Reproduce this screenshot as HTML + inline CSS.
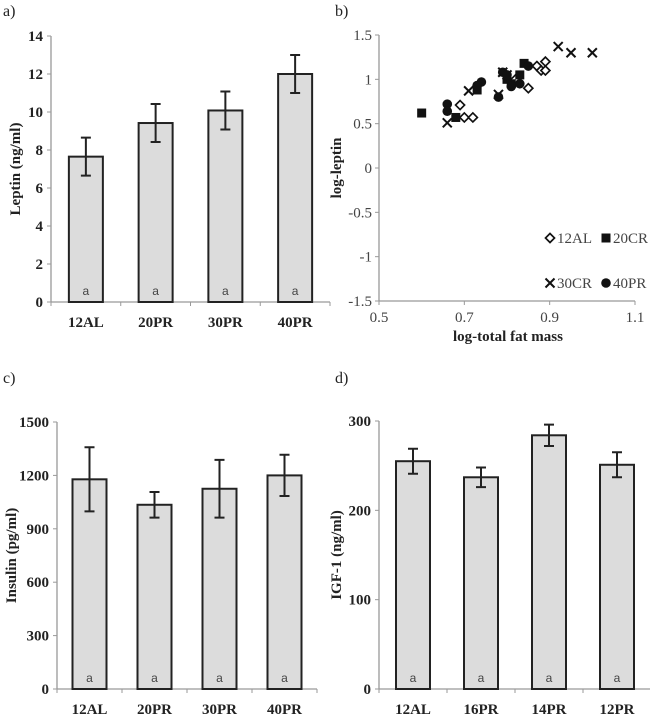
<!DOCTYPE html>
<html><head><meta charset="utf-8"><style>
html,body{margin:0;padding:0;background:#fff;}
svg{display:block;font-family:"Liberation Serif",serif;}
.tick{font-size:15px;font-weight:bold;fill:#222;}
.tickr{font-size:15px;fill:#444;}
.title{font-size:15px;font-weight:bold;fill:#222;}
.panel{font-size:16px;fill:#222;}
.a{font-size:12px;fill:#444;font-family:"Liberation Sans",sans-serif;}
</style></head><body>
<svg id="fig" width="650" height="718" viewBox="0 0 650 718">
<text x="3" y="16" class="panel">a)</text>
<text x="335" y="16" class="panel">b)</text>
<text x="3" y="383" class="panel">c)</text>
<text x="335" y="383" class="panel">d)</text>
</svg>
<script>
// Panel a: leptin
const catsA = ["12AL","20PR","30PR","40PR"];
const valsA = [7.65, 9.42, 10.08, 12.0];
const errA = [1.0, 1.0, 1.0, 1.0];
const ticksA = [0,2,4,6,8,10,12,14];
// Panel c: insulin
const catsC = ["12AL","20PR","30PR","40PR"];
const valsC = [1178, 1035, 1125, 1200];
const errC = [180, 72, 162, 116];
const ticksC = [0,300,600,900,1200,1500];
// Panel d: IGF-1
const catsD = ["12AL","16PR","14PR","12PR"];
const valsD = [255, 237, 284, 251];
const errD = [14, 11, 12, 14];
const ticksD = [0,100,200,300];
// Panel b: scatter
const xAL = [0.69,0.70,0.72,0.85,0.87,0.88,0.89,0.89,0.82];
const yAL = [0.71,0.57,0.57,0.90,1.15,1.10,1.20,1.10,1.00];
const xCR20 = [0.60,0.68,0.73,0.80,0.83,0.84,0.81];
const yCR20 = [0.62,0.57,0.88,1.00,1.05,1.18,0.95];
const xCR30 = [0.66,0.71,0.78,0.80,0.92,0.95,1.00,0.79];
const yCR30 = [0.51,0.87,0.83,1.05,1.37,1.30,1.30,1.08];
const xPR40 = [0.66,0.66,0.74,0.73,0.78,0.79,0.80,0.81,0.83,0.85];
const yPR40 = [0.72,0.64,0.97,0.93,0.80,1.08,1.05,0.92,0.95,1.15];
const ticksBx = [0.5,0.7,0.9,1.1];
const ticksBy = [-1.5,-1,-0.5,0,0.5,1,1.5];

const svg = document.getElementById('fig');
const NS = 'http://www.w3.org/2000/svg';
function mk(tag, attrs, text){
  const e = document.createElementNS(NS, tag);
  for (const k in attrs) e.setAttribute(k, attrs[k]);
  if (text !== undefined) e.textContent = text;
  svg.appendChild(e);
  return e;
}

function barChart(p, cats, vals, errs, ticks, title, key){
  const ymax = ticks[ticks.length-1];
  const y = v => p.y0 - (v/ymax)*(p.y0-p.y1);
  const cw = (p.x1-p.x0)/cats.length;
  let e = mk('line',{x1:p.x0,y1:p.y0,x2:p.x0,y2:p.y1,stroke:'#999','stroke-width':1.3});
  
  
  e = mk('line',{x1:p.x0,y1:p.y0,x2:p.x1,y2:p.y0,stroke:'#999','stroke-width':1.3});
  
  
  ticks.forEach(t=>{
    const ty = y(t);
    mk('line',{x1:p.x0-4,y1:ty,x2:p.x0,y2:ty,stroke:'#999','stroke-width':1});
    const l = mk('text',{x:p.x0-8,y:ty+5,'text-anchor':'end',class:'tick'}, String(t));
    
    
  });
  for (let i=0;i<=cats.length;i++){
    mk('line',{x1:p.x0+i*cw,y1:p.y0,x2:p.x0+i*cw,y2:p.y0+4,stroke:'#999','stroke-width':1});
  }
  cats.forEach((c,i)=>{
    const cx = p.x0 + cw*(i+0.5);
    const bw = 34;
    const r = mk('rect',{x:cx-bw/2,y:y(vals[i]),width:bw,height:p.y0-y(vals[i]),fill:'#dcdcdc',stroke:'#222','stroke-width':2});
    
    
    const hi = y(vals[i]+errs[i]), lo = y(vals[i]-errs[i]);
    const eb = mk('path',{d:`M${cx},${hi}V${lo}M${cx-5},${hi}H${cx+5}M${cx-5},${lo}H${cx+5}`,stroke:'#222','stroke-width':2,fill:'none'});
    
    
    const a = mk('text',{x:cx,y:p.y0-7,'text-anchor':'middle',class:'a'},'a');
    
    
    const cl = mk('text',{x:cx,y:p.y0+25,'text-anchor':'middle',class:'tick'},c);
    
    
  });
  const ty = (p.y0+p.y1)/2;
  const t = mk('text',{x:p.tx,y:ty,'text-anchor':'middle',class:'title',transform:`rotate(-90 ${p.tx} ${ty})`},title);
  
  
}

barChart({x0:51,x1:330,y0:302,y1:36,tx:20}, catsA, valsA, errA, ticksA, 'Leptin (ng/ml)', 'leptin');
barChart({x0:57,x1:317,y0:689,y1:422,tx:16}, catsC, valsC, errC, ticksC, 'Insulin (pg/ml)', 'insulin');
barChart({x0:379,x1:651,y0:689,y1:421,tx:341}, catsD, valsD, errD, ticksD, 'IGF-1 (ng/ml)', 'igf1');

// Scatter b
const bx0=379, bx1=635, by0=301, by1=35;
const sx = v => bx0 + (v-0.5)/0.6*(bx1-bx0);
const sy = v => by0 - (v+1.5)/3*(by0-by1);
let ax = mk('line',{x1:bx0,y1:by0,x2:bx0,y2:by1,stroke:'#999','stroke-width':1.3});


ax = mk('line',{x1:bx0,y1:by0,x2:bx1,y2:by0,stroke:'#999','stroke-width':1.3});


ticksBy.forEach(t=>{
  mk('line',{x1:bx0-4,y1:sy(t),x2:bx0,y2:sy(t),stroke:'#999'});
  const l = mk('text',{x:bx0-7,y:sy(t)+5,'text-anchor':'end',class:'tickr'},String(t));
  
  
});
ticksBx.forEach(t=>{
  mk('line',{x1:sx(t),y1:by0,x2:sx(t),y2:by0+4,stroke:'#999'});
  const l = mk('text',{x:sx(t),y:by0+21,'text-anchor':'middle',class:'tickr'},String(t));
  
  
});
let tt = mk('text',{x:508,y:341,'text-anchor':'middle',class:'title'},'log-total fat mass');


tt = mk('text',{x:341,y:168,'text-anchor':'middle',class:'title',transform:'rotate(-90 341 168)'},'log-leptin');



function marker(kind, cx, cy){
  if (kind==='diamond') return mk('path',{d:`M${cx},${cy-4.5}L${cx+4.5},${cy}L${cx},${cy+4.5}L${cx-4.5},${cy}Z`,fill:'#fff',stroke:'#111','stroke-width':1.7});
  if (kind==='square') return mk('rect',{x:cx-4.5,y:cy-4.5,width:9,height:9,fill:'#111'});
  if (kind==='cross') return mk('path',{d:`M${cx-4.5},${cy-4.5}L${cx+4.5},${cy+4.5}M${cx-4.5},${cy+4.5}L${cx+4.5},${cy-4.5}`,stroke:'#111','stroke-width':2});
  return mk('circle',{cx:cx,cy:cy,r:4.8,fill:'#111'});
}
const series = [
  [xAL,yAL,'diamond','12al'],
  [xCR20,yCR20,'square','20cr'],
  [xCR30,yCR30,'cross','30cr'],
  [xPR40,yPR40,'circle','40pr']
];
series.forEach(([xs,ys,kind,name])=>{
  xs.forEach((v,i)=>{
    const m = marker(kind, sx(v), sy(ys[i]));
    
    
  });
});
const legend = [[550,238,'diamond','12AL'],[606,238,'square','20CR'],[550,283,'cross','30CR'],[606,283,'circle','40PR']];
legend.forEach(([lx,ly,kind,lab])=>{
  const m = marker(kind,lx,ly);
  
  
  const t = mk('text',{x:lx+7,y:ly+5,class:'tickr'},lab);
  
  
});
</script>
</body></html>
